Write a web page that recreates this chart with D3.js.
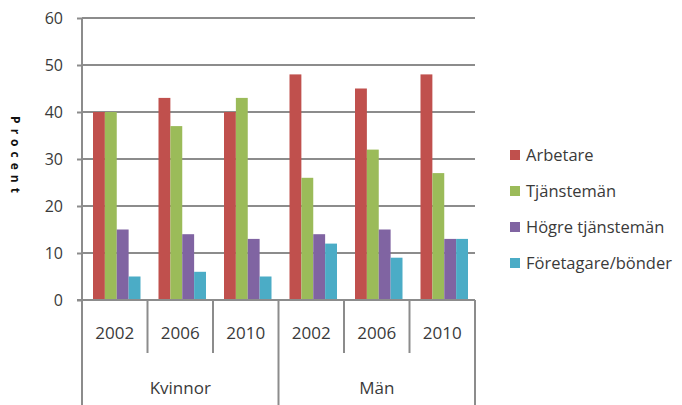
<!DOCTYPE html>
<html>
<head>
<meta charset="utf-8">
<script src="https://cdn.jsdelivr.net/npm/d3@7"></script>
<style>
  body { margin: 0; background: #fff; }
  svg text { font-family: "Open Sans", sans-serif; fill: #3a3a3a; }
</style>
</head>
<body>
<svg id="chart" width="682" height="405"></svg>
<script>
// data
var groups = ["Kvinnor", "Män"];
var years = ["2002", "2006", "2010"];
var series = ["Arbetare", "Tjänstemän", "Högre tjänstemän", "Företagare/bönder"];
var colors = ["#C0504D", "#9BBB59", "#8064A2", "#4BACC6"];
var arbetare   = [40, 43, 40, 48, 45, 48];
var tjanstemen = [40, 37, 43, 26, 32, 27];
var hogre      = [15, 14, 13, 14, 15, 13];
var foretagare = [5, 6, 5, 12, 9, 13];
var yTicks = [0, 10, 20, 30, 40, 50, 60];

var values = [arbetare, tjanstemen, hogre, foretagare];
var cats = [];
groups.forEach(function(g) {
  years.forEach(function(yr) { cats.push({ group: g, year: yr, key: g + yr }); });
});

var svg = d3.select("#chart");
var plotLeft = 82, plotRight = 475, plotTop = 18, plotBottom = 300;
var gridColor = "#8c8c8c";

var y = d3.scaleLinear().domain([0, 60]).range([plotBottom, plotTop]);
var x0 = d3.scaleBand().domain(cats.map(function(c) { return c.key; }))
  .range([plotLeft, plotRight]).paddingInner(0).paddingOuter(0);
var x1 = d3.scaleBand().domain(d3.range(series.length))
  .range([11, x0.bandwidth() - 7]).padding(0);

// gridlines
svg.append("g").selectAll("line.grid")
  .data(yTicks.filter(function(t) { return t > 0; }))
  .enter().append("line")
  .attr("x1", plotLeft).attr("x2", plotRight)
  .attr("y1", function(d) { return y(d); }).attr("y2", function(d) { return y(d); })
  .attr("stroke", gridColor).attr("stroke-width", 2);

// y axis
var yAxis = svg.append("g")
  .attr("transform", "translate(" + plotLeft + ",0)")
  .call(d3.axisLeft(y).tickValues(yTicks).tickSize(5).tickPadding(14));
yAxis.select(".domain").remove();
yAxis.selectAll(".tick line").attr("stroke", gridColor).attr("stroke-width", 2);
yAxis.selectAll(".tick text")
  .attr("font-size", 16).attr("fill", "#3a3a3a")
  .attr("font-family", "Open Sans, sans-serif");

// bars
var gCat = svg.append("g").selectAll("g.cat")
  .data(cats).enter().append("g")
  .attr("transform", function(c) { return "translate(" + x0(c.key) + ",0)"; });

gCat.selectAll("rect")
  .data(function(c, i) {
    return series.map(function(s, k) { return { k: k, v: values[k][i] }; });
  })
  .enter().append("rect")
  .attr("x", function(d) { return x1(d.k); })
  .attr("width", x1.bandwidth())
  .attr("y", function(d) { return y(d.v); })
  .attr("height", function(d) { return y(0) - y(d.v); })
  .attr("fill", function(d) { return colors[d.k]; });

// axis lines
svg.append("line").attr("x1", plotLeft).attr("x2", plotLeft).attr("y1", plotTop).attr("y2", 405)
  .attr("stroke", gridColor).attr("stroke-width", 2);
svg.append("line").attr("x1", plotLeft - 5).attr("x2", plotRight).attr("y1", plotBottom).attr("y2", plotBottom)
  .attr("stroke", gridColor).attr("stroke-width", 2);

// category separators
cats.forEach(function(c, i) {
  var xs = x0(c.key) + x0.bandwidth();
  var groupEnd = (i + 1) % years.length === 0;
  svg.append("line").attr("x1", xs).attr("x2", xs)
    .attr("y1", plotBottom).attr("y2", groupEnd ? 405 : 353)
    .attr("stroke", gridColor).attr("stroke-width", 2);
});

// year labels
svg.append("g").selectAll("text.year")
  .data(cats).enter().append("text")
  .attr("x", function(c) { return x0(c.key) + x0.bandwidth() / 2; })
  .attr("y", 339)
  .attr("text-anchor", "middle")
  .attr("font-size", 17)
  .text(function(c) { return c.year; });

// group labels
svg.append("g").selectAll("text.group")
  .data(groups).enter().append("text")
  .attr("x", function(g) {
    var a = x0(g + years[0]), b = x0(g + years[years.length - 1]) + x0.bandwidth();
    return (a + b) / 2;
  })
  .attr("y", 394)
  .attr("text-anchor", "middle")
  .attr("font-size", 17)
  .text(function(g) { return g; });

// y axis title
svg.append("text")
  .attr("transform", "translate(11,157) rotate(90)")
  .attr("text-anchor", "middle")
  .attr("font-size", 12)
  .attr("font-weight", "bold")
  .attr("letter-spacing", 5)
  .style("fill", "#111")
  .text("Procent");

// legend
var legend = svg.append("g").selectAll("g.leg")
  .data(series).enter().append("g")
  .attr("transform", function(s, i) { return "translate(510," + (155 + i * 36) + ")"; });
legend.append("rect")
  .attr("x", 0).attr("y", -5).attr("width", 10).attr("height", 10)
  .attr("fill", function(s, i) { return colors[i]; });
legend.append("text")
  .attr("x", 16).attr("y", 6)
  .attr("font-size", 16.5)
  .text(function(s) { return s; });
</script>
</body>
</html>
